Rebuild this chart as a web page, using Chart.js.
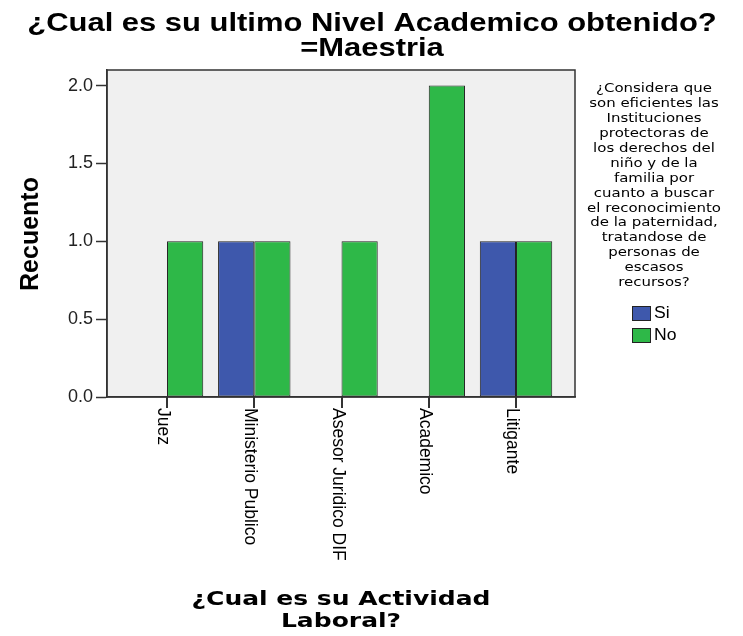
<!DOCTYPE html>
<html>
<head>
<meta charset="utf-8">
<script src="https://cdn.jsdelivr.net/npm/chart.js@4.4.1/dist/chart.umd.min.js"></script>
<style>
  body { margin: 0; background: #fff; }
  #contenedor { width: 743px; height: 636px; position: relative; }
</style>
</head>
<body>
<div id="contenedor"><canvas id="graficoMaestria"></canvas></div>
<script>
// datos
var categorias = ['Juez', 'Ministerio Publico', 'Asesor Juridico DIF', 'Academico', 'Litigante'];
var series = ['Si', 'No'];
var valoresSi = [0, 1, 0, 0, 1];
var valoresNo = [1, 1, 1, 2, 1];
var ticksY = [0, 0.5, 1.0, 1.5, 2.0];

var titulo = ['¿Cual es su ultimo Nivel Academico obtenido?', '=Maestria'];
var tituloX = ['¿Cual es su Actividad', 'Laboral?'];
var tituloY = 'Recuento';
var tituloLeyenda = ['¿Considera que', 'son eficientes las', 'Instituciones', 'protectoras de',
  'los derechos del', 'niño y de la', 'familia por', 'cuanto a buscar', 'el reconocimiento',
  'de la paternidad,', 'tratandose de', 'personas de', 'escasos', 'recursos?'];

var colores = ['#3e58ac', '#2eb848'];

function texto(ctx, str, x, y, fuente, estirar, alinear, base) {
  ctx.save();
  ctx.font = fuente;
  ctx.fillStyle = '#000';
  ctx.textAlign = alinear || 'center';
  ctx.textBaseline = base || 'alphabetic';
  ctx.translate(x, y);
  ctx.scale(estirar, 1);
  ctx.fillText(str, 0, 0);
  ctx.restore();
}

var decorado = {
  id: 'decorado',
  beforeDraw: function (chart) {
    var a = chart.chartArea, ctx = chart.ctx;
    ctx.save();
    ctx.fillStyle = '#f0f0f0';
    ctx.fillRect(a.left, a.top, a.right - a.left, a.bottom - a.top);
    ctx.restore();
  },
  afterDraw: function (chart) {
    var a = chart.chartArea, ctx = chart.ctx;
    var escalaX = chart.scales.x;

    // marco del area
    ctx.save();
    ctx.strokeStyle = '#333';
    ctx.lineWidth = 1.5;
    ctx.strokeRect(a.left, a.top, a.right - a.left, a.bottom - a.top);
    ctx.restore();

    // titulo
    texto(ctx, titulo[0], 372, 31, 'bold 26px "Liberation Sans", Arial', 1.19);
    texto(ctx, titulo[1], 372, 56, 'bold 26px "Liberation Sans", Arial', 1.19);

    // marcas y etiquetas del eje x, verticales
    categorias.forEach(function (c, i) {
      var px = Math.round(escalaX.getPixelForValue(i));
      ctx.save();
      ctx.fillStyle = '#333';
      ctx.fillRect(px - 1, a.bottom, 2, 11);
      ctx.font = '17.5px "Liberation Sans", Arial';
      ctx.fillStyle = '#000';
      ctx.textAlign = 'left';
      ctx.textBaseline = 'alphabetic';
      ctx.translate(px - 9, a.bottom + 11);
      ctx.rotate(Math.PI / 2);
      ctx.fillText(c, 0, 0);
      ctx.restore();
    });

    // titulo eje y
    ctx.save();
    ctx.font = 'bold 25px "Liberation Sans", Arial';
    ctx.fillStyle = '#000';
    ctx.textAlign = 'center';
    ctx.translate(38, 234);
    ctx.rotate(-Math.PI / 2);
    ctx.fillText(tituloY, 0, 0);
    ctx.restore();

    // titulo eje x
    texto(ctx, tituloX[0], 341, 605, 'bold 20px "DejaVu Sans"', 1.25);
    texto(ctx, tituloX[1], 341, 627, 'bold 20px "DejaVu Sans"', 1.25);

    // leyenda
    tituloLeyenda.forEach(function (l, i) {
      texto(ctx, l, 654, 89 + i * 14.9, '13px "DejaVu Sans"', 1.15, 'center', 'middle');
    });
    series.forEach(function (s, i) {
      var y = 313 + i * 22;
      ctx.save();
      ctx.fillStyle = colores[i];
      ctx.strokeStyle = '#222';
      ctx.lineWidth = 1;
      ctx.fillRect(632, y - 7, 19, 15);
      ctx.strokeRect(632.5, y - 6.5, 18, 14);
      ctx.restore();
      texto(ctx, s, 654, y + 1, '16px "Liberation Sans", Arial', 1.1, 'left', 'middle');
    });
  }
};

function puntos(valores) {
  return valores.map(function (v, i) { return { x: i, y: v }; });
}

var ctx = document.getElementById('graficoMaestria');
var grafico = new Chart(ctx, {
  type: 'bar',
  data: {
    datasets: [{
      label: series[0],
      data: puntos(valoresSi),
      backgroundColor: colores[0],
      borderColor: '#222',
      borderWidth: 1,
      borderSkipped: false
    }, {
      label: series[1],
      data: puntos(valoresNo),
      backgroundColor: colores[1],
      borderColor: '#222',
      borderWidth: 1,
      borderSkipped: false
    }]
  },
  options: {
    responsive: true,
    maintainAspectRatio: false,
    animation: false,
    layout: { padding: { left: 0, top: 70, right: 168, bottom: 0 } },
    plugins: {
      legend: { display: false },
      title: { display: false },
      tooltip: { enabled: false }
    },
    datasets: { bar: { barPercentage: 1.0, categoryPercentage: 0.83 } },
    scales: {
      x: {
        type: 'linear',
        offset: false,
        min: -0.688,
        max: 4.676,
        afterBuildTicks: function (s) {
          s.ticks = categorias.map(function (c, i) { return { value: i }; });
        },
        afterFit: function (s) { s.height = 636 - 397; },
        ticks: { callback: function () { return ''; } },
        grid: { offset: false, drawOnChartArea: false, drawTicks: false },
        border: { display: true, color: '#333', width: 1.5 }
      },
      y: {
        min: 0,
        max: 2.1,
        afterBuildTicks: function (s) {
          s.ticks = ticksY.map(function (v) { return { value: v }; });
        },
        afterFit: function (s) { s.width = 107; },
        ticks: {
          callback: function (v) { return v.toFixed(1); },
          color: '#222',
          font: { family: '"Liberation Sans", Arial', size: 18 },
          padding: 3
        },
        grid: { drawOnChartArea: false, drawTicks: true, tickLength: 11, tickColor: '#333', tickWidth: 1.5 },
        border: { display: true, color: '#333', width: 1.5 }
      }
    }
  },
  plugins: [decorado]
});
</script>
</body>
</html>
